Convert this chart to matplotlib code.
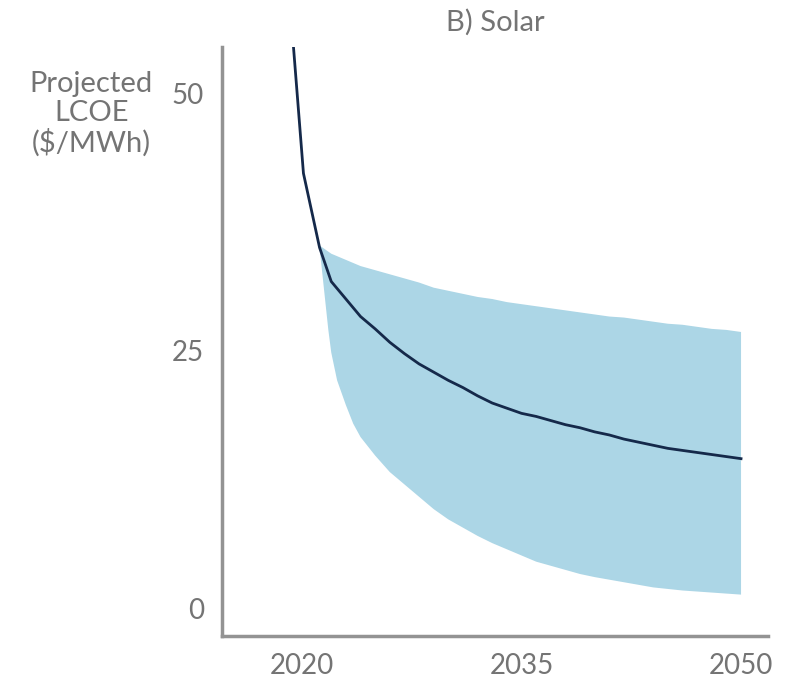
import matplotlib.pyplot as plt

plt.rcParams['font.family'] = ['Lato', 'DejaVu Sans']

# central LCOE projection ($/MWh)
line_years = [2019, 2020.1, 2021.2, 2022, 2023, 2024, 2025, 2026, 2027, 2028, 2029,
              2030, 2031, 2032, 2033, 2034, 2035, 2036, 2037, 2038, 2039, 2040,
              2041, 2042, 2043, 2044, 2045, 2046, 2047, 2048, 2049, 2050]
line_lcoe = [62.0, 42.2, 35.0, 31.7, 30.0, 28.3, 27.1, 25.8, 24.7, 23.7, 22.9,
             22.1, 21.4, 20.6, 19.9, 19.4, 18.9, 18.6, 18.2, 17.8, 17.5, 17.1,
             16.8, 16.4, 16.1, 15.8, 15.5, 15.3, 15.1, 14.9, 14.7, 14.5]

# upper edge of the range
upper_years = [2021.2, 2022, 2023, 2024, 2025, 2026, 2027, 2028, 2029, 2030,
               2031, 2032, 2033, 2034, 2035, 2036, 2037, 2038, 2039, 2040,
               2041, 2042, 2043, 2044, 2045, 2046, 2047, 2048, 2049, 2050]
upper_lcoe = [35.2, 34.4, 33.8, 33.2, 32.8, 32.4, 32.0, 31.6, 31.1, 30.8,
              30.5, 30.2, 30.0, 29.7, 29.5, 29.3, 29.1, 28.9, 28.7, 28.5,
              28.3, 28.2, 28.0, 27.8, 27.6, 27.5, 27.3, 27.1, 27.0, 26.8]

# lower edge of the range
lower_years = [2021.2, 2021.5, 2021.8, 2022.0, 2022.4, 2023.0, 2023.5, 2024, 2025,
               2026, 2027, 2028, 2029, 2030, 2031, 2032, 2033, 2034, 2035, 2036,
               2037, 2038, 2039, 2040, 2042, 2044, 2046, 2048, 2050]
lower_lcoe = [35.0, 31.0, 27.0, 24.8, 22.1, 19.7, 17.9, 16.6, 14.8,
              13.2, 12.0, 10.8, 9.6, 8.6, 7.8, 7.0, 6.3, 5.7, 5.1, 4.5,
              4.1, 3.7, 3.3, 3.0, 2.5, 2.0, 1.7, 1.5, 1.3]

xticks = [2020, 2035, 2050]
yticks = [0, 25, 50]

grey = '#747474'

fig = plt.figure(figsize=(7.87, 6.79), dpi=100)
ax = fig.add_axes([0.282, 0.0633, 0.694, 0.8675])

band_x = upper_years + lower_years[::-1]
band_y = upper_lcoe + lower_lcoe[::-1]
ax.fill(band_x, band_y, color='#acd6e6', lw=0)
ax.plot(line_years, line_lcoe, color='#15294a', lw=2, solid_joinstyle='round')

ax.set_xlim(2014.53, 2051.85)
ax.set_ylim(-2.72, 54.47)
ax.set_xticks(xticks)
ax.set_yticks(yticks)
ax.tick_params(length=0, labelsize=20, labelcolor=grey)
ax.tick_params(axis='y', pad=13)
ax.tick_params(axis='x', pad=12)

for side in ['top', 'right']:
    ax.spines[side].set_visible(False)
for side in ['left', 'bottom']:
    ax.spines[side].set_color('#939393')
    ax.spines[side].set_linewidth(2.5)

ax.set_title('B) Solar', fontsize=21, color=grey, pad=12)
fig.text(0.116, 0.832, 'Projected\nLCOE\n($/MWh)', ha='center', va='center',
         fontsize=21, color=grey, linespacing=1.12)

fig.savefig('out.png', dpi=100)
